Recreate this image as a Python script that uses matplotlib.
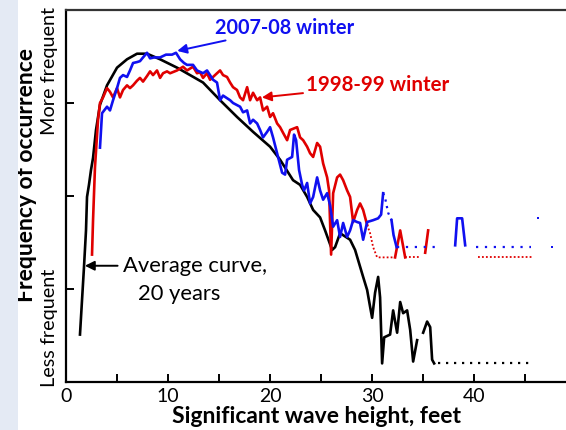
import numpy as np
import matplotlib.pyplot as plt
from matplotlib.patches import Rectangle

plt.rcParams['font.family'] = ['Lato', 'DejaVu Sans']

# average curve, 20 years (nan = gap in the trace)
avg_x = [1.37, 1.57, 1.76, 1.96, 2.06, 2.25, 2.45, 2.65, 2.94, 3.33, 4.02, 5.0, 5.98, 6.96, 7.94,
         9.22, 10.88, 12.16, 13.43, 15.1, 16.76, 18.33, 20.0, 20.98, 22.25, 22.94, 23.63, 24.22,
         24.9, 25.39, 26.08, 26.37, 26.86, 27.84, 28.33, 28.82, 29.12, 29.51, 29.8, 30.0, 30.29,
         30.59, 30.78, 30.98, 31.18, 31.76, 32.06, 32.45, 32.75, 33.04, 33.43, 33.73, 34.02, 34.41,
         34.7, 35.0, 35.39, 35.69, 35.88, 36.08]
avg_y = [0.51, 0.88, 1.23, 1.63, 1.99, 2.12, 2.28, 2.41, 2.71, 2.98, 3.19, 3.38, 3.47, 3.53, 3.53,
         3.47, 3.38, 3.30, 3.22, 3.03, 2.85, 2.69, 2.53, 2.39, 2.17, 2.12, 1.99, 1.85,
         1.77, 1.63, 1.42, 1.45, 1.60, 1.53, 1.42, 1.24, 1.13, 0.99, 0.81, 0.69, 0.96,
         1.13, 0.91, 0.20, 0.48, 0.51, 0.77, 0.53, 0.86, 0.74, 0.77, 0.56, 0.22, 0.45,
         np.nan, 0.53, 0.65, 0.59, 0.24, 0.20]
avg_tail_x = [36.5, 45.8]
avg_tail_y = [0.20, 0.20]

# 2007-08 winter
w07_x = [3.33, 3.53, 4.02, 4.31, 4.61, 5.0, 5.29, 5.59, 5.98, 6.27, 6.57, 6.96, 7.25, 7.55, 7.94,
         8.24, 8.63, 9.22, 9.8, 10.39, 10.78, 11.18, 11.57, 11.86, 12.45, 12.84, 13.43, 13.82,
         14.41, 14.8, 15.1, 15.39, 16.08, 16.37, 17.06, 17.35, 17.75, 18.04, 18.33, 18.73, 19.02,
         19.31, 19.71, 20.0, 20.29, 20.78, 21.18, 21.47, 21.67, 22.16, 22.35, 22.55, 22.84, 23.14,
         23.33, 23.63, 23.92, 24.22, 24.61, 24.9, 25.2, 25.59, 25.88, 26.18, 26.57, 26.86, 27.16,
         27.55, 27.84, 28.14, 28.53, 28.82, 29.12, 29.51, 30.1, 30.59, 30.88, 31.08]
w07_y = [2.52, 2.89, 2.96, 2.92, 3.03, 3.16, 3.27, 3.30, 3.28, 3.35, 3.43, 3.44, 3.45, 3.49, 3.54,
         3.48, 3.49, 3.49, 3.52, 3.52, 3.54, 3.47, 3.43, 3.41, 3.41, 3.35, 3.32, 3.35,
         3.25, 3.22, 3.03, 3.08, 3.03, 3.00, 2.96, 2.90, 2.92, 2.78, 2.82, 2.78, 2.71,
         2.63, 2.69, 2.74, 2.63, 2.42, 2.25, 2.23, 2.39, 2.42, 2.66, 2.60, 2.28, 2.12,
         2.06, 2.14, 1.92, 1.99, 2.20, 2.06, 1.96, 2.03, 1.90, 1.67, 1.74, 1.56, 1.71,
         1.56, 1.63, 1.74, 1.72, 1.71, 1.53, 1.72, 1.74, 1.76, 1.80, 2.03]
w07_dot1_x = [31.08, 31.27, 31.57, 31.9]
w07_dot1_y = [2.03, 1.98, 1.82, 1.74]
w07_seg_x = [31.9, 32.1, 32.4]
w07_seg_y = [1.74, 1.58, 1.45]
w07_dot2_x = [32.4, 36.4]
w07_dot2_y = [1.45, 1.45]
w07_hump_x = [38.14, 38.33, 38.82, 39.12]
w07_hump_y = [1.47, 1.76, 1.76, 1.47]
w07_dot3_x = [40.2, 45.6]
w07_dot3_y = [1.45, 1.45]
w07_pts_x = [46.27, 47.65]
w07_pts_y = [1.76, 1.45]

# 1998-99 winter
w98_x = [2.55, 2.65, 2.84, 3.14, 3.33, 3.63, 4.02, 4.31, 4.61, 5.0, 5.29, 5.59, 5.98, 6.27, 6.57,
         6.96, 7.25, 7.55, 7.94, 8.24, 8.53, 8.92, 9.22, 9.51, 9.9, 10.2, 10.88, 11.47, 11.86,
         12.45, 12.84, 13.14, 13.43, 13.82, 14.12, 14.41, 14.8, 15.1, 15.39, 15.78, 16.08, 16.37,
         16.76, 17.06, 17.35, 17.75, 18.04, 18.33, 18.73, 19.02, 19.31, 19.71, 20.0, 20.29, 20.69,
         20.98, 21.27, 21.67, 21.96, 22.65, 22.94, 23.24, 23.63, 23.92, 24.22, 24.61, 24.9, 25.2,
         25.59, 25.78, 25.98, 26.18, 26.57, 26.86, 27.16, 27.55, 27.84, 28.14, 28.53, 28.82,
         29.12, 29.51]
w98_y = [1.37, 1.74, 2.31, 2.82, 3.00, 3.06, 3.16, 3.12, 3.06, 3.16, 3.06, 3.14, 3.19, 3.16, 3.19,
         3.24, 3.27, 3.23, 3.29, 3.34, 3.30, 3.35, 3.27, 3.32, 3.34, 3.32, 3.35, 3.39, 3.35,
         3.39, 3.32, 3.33, 3.27, 3.32, 3.25, 3.28, 3.32, 3.35, 3.30, 3.28, 3.22, 3.17,
         3.14, 3.06, 3.03, 3.17, 3.03, 3.11, 3.03, 3.06, 2.92, 2.96, 2.85, 2.89, 2.78,
         2.74, 2.68, 2.60, 2.71, 2.74, 2.63, 2.60, 2.53, 2.46, 2.42, 2.57, 2.53, 2.35,
         2.20, 2.06, 1.37, 2.03, 2.20, 2.23, 2.17, 2.06, 1.99, 1.72, 1.85, 1.92,
         1.85, 1.69]
w98_dot1_x = [29.51, 29.8, 30.1, 30.49, 32.25]
w98_dot1_y = [1.69, 1.60, 1.45, 1.34, 1.34]
w98_hump_x = [32.25, 32.75, 33.24]
w98_hump_y = [1.34, 1.63, 1.34]
w98_dot2_x = [33.24, 34.7]
w98_dot2_y = [1.34, 1.34]
w98_seg_x = [35.2, 35.49]
w98_seg_y = [1.39, 1.63]
w98_dot3_x = [40.39, 45.78]
w98_dot3_y = [1.34, 1.34]

xticks = [0, 5, 10, 15, 20, 25, 30, 35, 40, 45]
xticklabels = ['0', '', '10', '', '20', '', '30', '', '40', '']
yticks = [1, 2, 3]

blue = '#1010f0'
red = '#e00000'
lw = 1.9

fig = plt.figure(figsize=(5.66, 4.30), dpi=100)
fig.patches.append(Rectangle((0, 0), 18 / 566, 1, transform=fig.transFigure,
                             facecolor='#e4eaf4', edgecolor='none', zorder=0))
ax = fig.add_axes([66 / 566, 48 / 430, 500 / 566, 372 / 430])

ax.plot(avg_x, avg_y, color='black', lw=lw)
ax.plot(avg_tail_x, avg_tail_y, color='black', lw=1.6, linestyle=(0, (1, 2.6)))

ax.plot(w98_x, w98_y, color=red, lw=lw)
ax.plot(w98_dot1_x, w98_dot1_y, color=red, lw=1.3, linestyle=(0, (1, 1.2)))
ax.plot(w98_hump_x, w98_hump_y, color=red, lw=lw)
ax.plot(w98_dot2_x, w98_dot2_y, color=red, lw=1.3, linestyle=(0, (1, 1.2)))
ax.plot(w98_seg_x, w98_seg_y, color=red, lw=lw)
ax.plot(w98_dot3_x, w98_dot3_y, color=red, lw=1.3, linestyle=(0, (1, 1.2)))

ax.plot(w07_x, w07_y, color=blue, lw=lw)
ax.plot(w07_dot1_x, w07_dot1_y, color=blue, lw=1.6, linestyle=(0, (1, 2)))
ax.plot(w07_seg_x, w07_seg_y, color=blue, lw=lw)
ax.plot(w07_dot2_x, w07_dot2_y, color=blue, lw=1.6, linestyle=(0, (1, 3)))
ax.plot(w07_hump_x, w07_hump_y, color=blue, lw=lw)
ax.plot(w07_dot3_x, w07_dot3_y, color=blue, lw=1.6, linestyle=(0, (1, 3)))
ax.plot(w07_pts_x, w07_pts_y, 's', color=blue, ms=2, mew=0)

ax.set_xlim(0, 49)
ax.set_ylim(0, 4)
ax.set_xticks(xticks)
ax.set_xticklabels(xticklabels, fontsize=14)
ax.set_yticks(yticks)
ax.set_yticklabels([])
ax.tick_params(direction='in', length=6, width=1.4, pad=4)
for s in ['left', 'bottom', 'top']:
    ax.spines[s].set_linewidth(1.6)
ax.spines['top'].set_color('#333333')
ax.spines['right'].set_visible(False)

ax.set_xlabel('Significant wave height, feet', fontsize=16.5, fontweight='bold', labelpad=1)
ax.set_ylabel('Frequency of occurrence', fontsize=16.5, fontweight='bold')
ax.yaxis.set_label_coords(-0.058, 0.556)
ax.text(-1.6, 3.34, 'More frequent', rotation=90, ha='center', va='center', fontsize=14.3,
        clip_on=False)
ax.text(-1.6, 0.58, 'Less frequent', rotation=90, ha='center', va='center', fontsize=14.3,
        clip_on=False)

ax.annotate('2007-08 winter', xy=(10.9, 3.56), xytext=(14.6, 3.81), color=blue,
            fontsize=14.3, fontweight='bold', va='center', ha='left',
            arrowprops=dict(arrowstyle='-|>', color=blue, lw=1.4, mutation_scale=14,
                            shrinkA=0, shrinkB=0))
ax.annotate('1998-99 winter', xy=(19.2, 3.06), xytext=(23.5, 3.19), color=red,
            fontsize=14.8, fontweight='bold', va='center', ha='left',
            arrowprops=dict(arrowstyle='-|>', color=red, lw=1.4, mutation_scale=14,
                            shrinkA=0, shrinkB=0))
ax.annotate('Average curve,', xy=(1.85, 1.25), xytext=(5.6, 1.25), color='black',
            fontsize=15.8, va='center', ha='left',
            arrowprops=dict(arrowstyle='-|>', color='black', lw=1.4, mutation_scale=14,
                            shrinkA=2, shrinkB=0))
ax.text(11.1, 0.95, '20 years', fontsize=15.8, va='center', ha='center')

fig.savefig('out.png', dpi=100)
